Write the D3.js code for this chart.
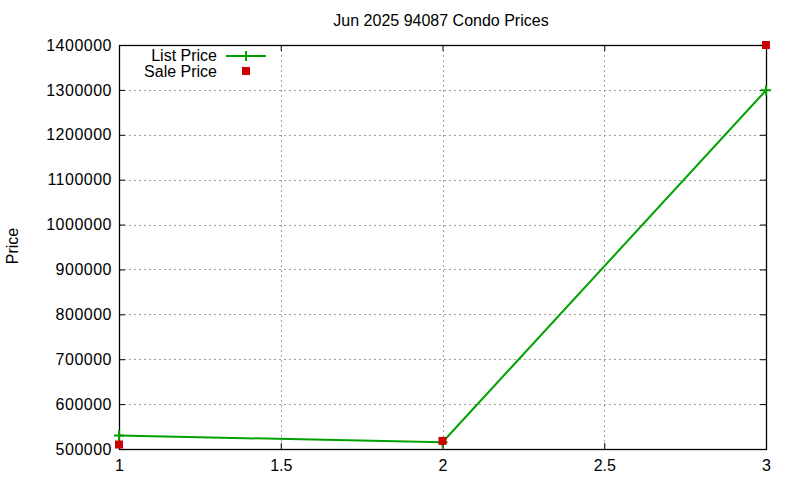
<!DOCTYPE html>
<html>
<head>
<meta charset="utf-8">
<script src="https://cdn.jsdelivr.net/npm/d3@7"></script>
<style>
  body { margin: 0; background: #fff; }
  text { font-family: "Liberation Sans", Arial, sans-serif; }
</style>
</head>
<body>
<div id="chart"></div>
<script>
const xValues = [1, 2, 3];
const listPrice = [530000, 515000, 1299000];
const salePrice = [510000, 518000, 1400000];
const xTicks = [1, 1.5, 2, 2.5, 3];
const yTicks = [500000, 600000, 700000, 800000, 900000, 1000000, 1100000, 1200000, 1300000, 1400000];

const width = 800, height = 480;
const margin = { top: 45, right: 34, bottom: 31, left: 119 };
const fontSize = '16px';

const svg = d3.select('#chart').append('svg')
    .attr('width', width)
    .attr('height', height);

const x = d3.scaleLinear().domain([1, 3]).range([margin.left, width - margin.right]);
const y = d3.scaleLinear().domain([500000, 1400000]).range([height - margin.bottom, margin.top]);

// Grid
const grid = svg.append('g').attr('stroke', '#a0a0a0').attr('stroke-dasharray', '2,3').attr('stroke-width', 1);
grid.selectAll('.gx').data(xTicks.slice(1, -1)).enter().append('line')
    .attr('x1', d => Math.round(x(d)) + 0.5).attr('x2', d => Math.round(x(d)) + 0.5)
    .attr('y1', margin.top).attr('y2', height - margin.bottom);
grid.selectAll('.gy').data(yTicks.slice(1, -1)).enter().append('line')
    .attr('y1', d => Math.round(y(d)) + 0.5).attr('y2', d => Math.round(y(d)) + 0.5)
    .attr('x1', margin.left).attr('x2', width - margin.right);

// Axes (ticks inward, mirrored)
const xAxis = d3.axisBottom(x).tickValues(xTicks).tickSizeInner(-6).tickSizeOuter(0).tickFormat(d3.format('~g'));
const yAxis = d3.axisLeft(y).tickValues(yTicks).tickSizeInner(-6).tickSizeOuter(0).tickFormat(d3.format('d'));

const gx = svg.append('g').attr('transform', `translate(0,${height - margin.bottom})`).call(xAxis);
const gy = svg.append('g').attr('transform', `translate(${margin.left},0)`).call(yAxis);
const gxTop = svg.append('g').attr('transform', `translate(0,${margin.top})`)
    .call(d3.axisTop(x).tickValues(xTicks).tickSizeInner(-6).tickSizeOuter(0).tickFormat(''));
const gyRight = svg.append('g').attr('transform', `translate(${width - margin.right},0)`)
    .call(d3.axisRight(y).tickValues(yTicks).tickSizeInner(-6).tickSizeOuter(0).tickFormat(''));

[gx, gy, gxTop, gyRight].forEach(g => {
    g.select('.domain').remove();
    g.selectAll('line').attr('stroke', '#000');
    g.selectAll('text').attr('fill', '#000').style('font-size', fontSize)
        .style('font-family', '"Liberation Sans", Arial, sans-serif');
});
gx.selectAll('text').attr('y', 8).attr('dy', '0.9em');
gy.selectAll('text').attr('x', -7).style('letter-spacing', '0.5px');

// Border
svg.append('rect')
    .attr('x', margin.left + 0.5).attr('y', margin.top + 0.5)
    .attr('width', width - margin.right - margin.left)
    .attr('height', height - margin.bottom - margin.top)
    .attr('fill', 'none').attr('stroke', '#000').attr('stroke-width', 1.3);

// List price line
const line = d3.line().x((d, i) => x(xValues[i])).y(d => y(d));
svg.append('path').datum(listPrice)
    .attr('d', line)
    .attr('fill', 'none')
    .attr('stroke', '#00a000')
    .attr('stroke-width', 2);

const plus = (g, cx, cy, s) => {
    g.append('path')
        .attr('d', `M${cx - s},${cy}H${cx + s}M${cx},${cy - s}V${cy + s}`)
        .attr('stroke', '#00a000').attr('stroke-width', 2).attr('fill', 'none');
};
listPrice.forEach((d, i) => plus(svg, x(xValues[i]), y(d), 5));

// Sale price points
svg.selectAll('.sale').data(salePrice).enter().append('rect')
    .attr('x', (d, i) => x(xValues[i]) - 4)
    .attr('y', d => y(d) - 4)
    .attr('width', 8).attr('height', 8)
    .attr('fill', '#cc0000');

// Legend
const legend = svg.append('g');
legend.append('text').attr('x', 217).attr('y', 61).attr('text-anchor', 'end')
    .style('font-size', fontSize).text('List Price');
legend.append('line').attr('x1', 226).attr('x2', 266).attr('y1', 56).attr('y2', 56)
    .attr('stroke', '#00a000').attr('stroke-width', 2);
plus(legend, 246, 56, 5);
legend.append('text').attr('x', 217).attr('y', 77).attr('text-anchor', 'end')
    .style('font-size', fontSize).text('Sale Price');
legend.append('rect').attr('x', 242).attr('y', 67).attr('width', 8).attr('height', 8).attr('fill', '#cc0000');

// Title and axis label
svg.append('text').attr('x', 441).attr('y', 26).attr('text-anchor', 'middle')
    .style('font-size', fontSize).text('Jun 2025 94087 Condo Prices');
svg.append('text').attr('transform', 'translate(18,246) rotate(-90)').attr('text-anchor', 'middle')
    .style('font-size', fontSize).text('Price');
</script>
</body>
</html>
